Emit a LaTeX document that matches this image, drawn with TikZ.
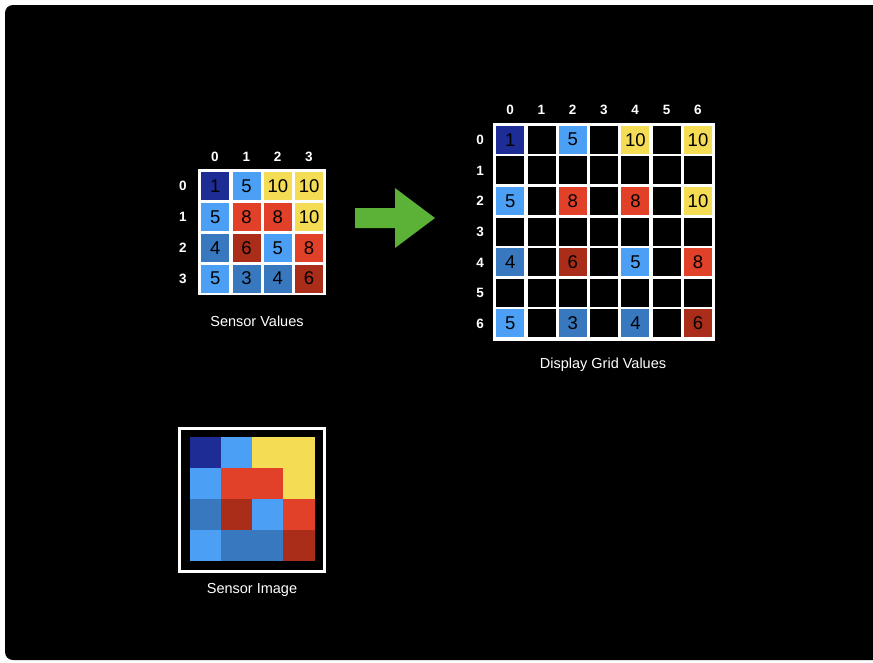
\documentclass[tikz,border=0pt]{standalone}
\usepackage{fontspec}
\setmainfont{Liberation Sans}
\definecolor{c1}{RGB}{30,45,150}
\definecolor{c3}{RGB}{55,120,190}
\definecolor{c4}{RGB}{55,120,190}
\definecolor{c5}{RGB}{75,160,245}
\definecolor{c6}{RGB}{170,45,25}
\definecolor{c8}{RGB}{225,65,40}
\definecolor{c10}{RGB}{245,220,85}
\definecolor{agreen}{RGB}{92,178,55}
\tikzset{
  cellbox/.style={anchor=north west, minimum width=28pt, minimum height=28pt, inner sep=0pt, text=black, font=\fontsize{18.5}{20}\selectfont},
  pixbox/.style={anchor=north west, minimum width=31.4pt, minimum height=31.2pt, inner sep=0pt, draw=none},
  hdr/.style={text=white, inner sep=0pt, font=\fontsize{13.5}{15}\selectfont\bfseries},
  caption/.style={text=white, inner sep=0pt, font=\fontsize{14.5}{16}\selectfont},
  framebox/.style={anchor=north west, fill=white, inner sep=0pt}
}
\begin{document}
\begin{tikzpicture}[x=1pt,y=-1pt]
\useasboundingbox (0,0) rectangle (873,662);
\fill[white] (0,0) rectangle (873,662);
\begin{scope}
\clip (0,0) rectangle (873,662);
\fill[black, rounded corners=8pt] (5,5) rectangle (900,660);
\end{scope}

% ---- Sensor values grid ----
\def\px{31.3}\def\py{30.8}
\node[framebox, minimum width=128pt, minimum height=126pt] (sgrid) at (198,169) {};
\foreach \row [count=\r from 0] in {{1,5,10,10},{5,8,8,10},{4,6,5,8},{5,3,4,6}} {
  \foreach \v [count=\c from 0] in \row {
    \node[cellbox, fill=c\v] (s-\r-\c) at ({201+\c*\px},{172+\r*\py}) {\v};
  }
}
\foreach \c in {0,...,3} {
  \node[hdr] (sch-\c) at ({215+\c*\px},157) {\c};
  \node[hdr] (srh-\c) at (183,{186+\c*\py}) {\c};
}
\node[caption] (scap) at (257,321) {Sensor Values};

% ---- Arrow ----
\fill[agreen] (355,208) -- (395,208) -- (395,188) -- (435,218) -- (395,248) -- (395,228) -- (355,228) -- cycle;

% ---- Display grid ----
\def\qx{31.3}\def\qy{30.6}
\node[framebox, minimum width=222pt, minimum height=218pt] (dgrid) at (493,122.5) {};
\foreach \r in {0,...,6} {
  \foreach \c in {0,...,6} {
    \pgfmathtruncatemacro\ev{(mod(\r,2)==0 && mod(\c,2)==0) ? 1 : 0}
    \ifnum\ev=0
      \node[cellbox, fill=black] (d-\r-\c) at ({496+\c*\qx},{125.5+\r*\qy}) {};
    \fi
  }
}
\foreach \row [count=\rr from 0] in {{1,5,10,10},{5,8,8,10},{4,6,5,8},{5,3,4,6}} {
  \foreach \v [count=\cc from 0] in \row {
    \pgfmathtruncatemacro\r{2*\rr}
    \pgfmathtruncatemacro\c{2*\cc}
    \node[cellbox, fill=c\v] (d-\r-\c) at ({496+\c*\qx},{125.5+\r*\qy}) {\v};
  }
}
\foreach \c in {0,...,6} {
  \node[hdr] (dch-\c) at ({510+\c*\qx},110) {\c};
  \node[hdr] (drh-\c) at (480,{140+\c*\qy}) {\c};
}
\node[caption] (dcap) at (603,365) {Display Grid Values};

% ---- Sensor image ----
\draw[white, line width=3pt] (179.5,428.5) rectangle (324.5,571.5);
\foreach \row [count=\r from 0] in {{1,5,10,10},{5,8,8,10},{4,6,5,8},{5,3,4,6}} {
  \foreach \v [count=\c from 0] in \row {
    \node[pixbox, fill=c\v] (i-\r-\c) at ({190+\c*31},{437+\r*31}) {};
  }
}
\node[caption] (icap) at (252,590) {Sensor Image};
\end{tikzpicture}
\end{document}
